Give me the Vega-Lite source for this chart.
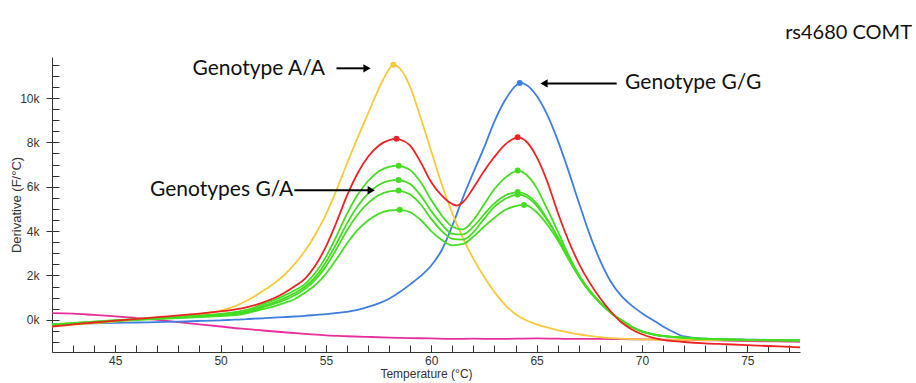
{
  "$schema": "https://vega.github.io/schema/vega-lite/v6.json",
  "width": 748,
  "height": 295,
  "autosize": "none",
  "padding": {"left": 52, "top": 57, "right": 116, "bottom": 31},
  "background": "white",
  "config": {
    "view": {"stroke": null},
    "font": "Liberation Sans",
    "axis": {"labelFont": "Liberation Sans", "titleFont": "Liberation Sans", "labelColor": "#333", "titleColor": "#333", "domainColor": "#333", "tickColor": "#333", "titleFontWeight": "normal", "grid": false, "labelOverlap": false}
  },
  "title": {"text": "rs4680 COMT", "anchor": "end", "frame": "group", "dx": 112, "offset": 14, "font": "Lato", "fontSize": 20, "fontWeight": "normal", "color": "#111"},
  "datasets": {
    "curves": [
      {"T": 42, "Y": -0.3, "R": -0.3, "B": -0.2, "G1": -0.22, "G2": -0.24, "G3": -0.2, "G4": -0.26, "P": 0.3},
      {"T": 43, "Y": -0.22, "R": -0.2, "B": -0.18, "G1": -0.15, "G2": -0.17, "G3": -0.14, "G4": -0.19, "P": 0.28},
      {"T": 44, "Y": -0.15, "R": -0.12, "B": -0.16, "G1": -0.08, "G2": -0.1, "G3": -0.08, "G4": -0.12, "P": 0.22},
      {"T": 45, "Y": -0.08, "R": -0.04, "B": -0.14, "G1": -0.02, "G2": -0.04, "G3": -0.03, "G4": -0.06, "P": 0.16},
      {"T": 46, "Y": 0.0, "R": 0.04, "B": -0.12, "G1": 0.04, "G2": 0.02, "G3": 0.02, "G4": 0.0, "P": 0.08},
      {"T": 47, "Y": 0.08, "R": 0.12, "B": -0.1, "G1": 0.09, "G2": 0.07, "G3": 0.06, "G4": 0.04, "P": 0.0},
      {"T": 48, "Y": 0.15, "R": 0.2, "B": -0.08, "G1": 0.14, "G2": 0.12, "G3": 0.1, "G4": 0.08, "P": -0.1},
      {"T": 49, "Y": 0.25, "R": 0.28, "B": -0.05, "G1": 0.2, "G2": 0.17, "G3": 0.15, "G4": 0.12, "P": -0.2},
      {"T": 50, "Y": 0.42, "R": 0.38, "B": -0.02, "G1": 0.27, "G2": 0.23, "G3": 0.2, "G4": 0.17, "P": -0.3},
      {"T": 50.5, "Y": 0.55, "R": 0.44, "B": 0.0, "G1": 0.32, "G2": 0.27, "G3": 0.24, "G4": 0.2},
      {"T": 51, "Y": 0.75, "R": 0.52, "B": 0.02, "G1": 0.4, "G2": 0.34, "G3": 0.3, "G4": 0.25, "P": -0.4},
      {"T": 51.5, "Y": 1.0, "R": 0.63, "B": 0.05, "G1": 0.52, "G2": 0.45, "G3": 0.4, "G4": 0.36},
      {"T": 52, "Y": 1.3, "R": 0.78, "B": 0.07, "G1": 0.71, "G2": 0.62, "G3": 0.56, "G4": 0.48, "P": -0.48},
      {"T": 52.5, "Y": 1.62, "R": 0.96, "B": 0.1, "G1": 0.88, "G2": 0.78, "G3": 0.71, "G4": 0.6},
      {"T": 53, "Y": 2.0, "R": 1.2, "B": 0.12, "G1": 1.08, "G2": 0.97, "G3": 0.88, "G4": 0.75, "P": -0.56},
      {"T": 53.5, "Y": 2.5, "R": 1.5, "B": 0.15, "G1": 1.32, "G2": 1.2, "G3": 1.1, "G4": 0.93},
      {"T": 54, "Y": 3.1, "R": 1.85, "B": 0.18, "G1": 1.61, "G2": 1.49, "G3": 1.39, "G4": 1.22, "P": -0.63},
      {"T": 54.5, "Y": 3.85, "R": 2.45, "B": 0.22, "G1": 2.12, "G2": 1.94, "G3": 1.81, "G4": 1.57},
      {"T": 55, "Y": 4.75, "R": 3.3, "B": 0.26, "G1": 2.84, "G2": 2.6, "G3": 2.41, "G4": 2.08, "P": -0.7},
      {"T": 55.5, "Y": 5.85, "R": 4.4, "B": 0.31, "G1": 3.77, "G2": 3.44, "G3": 3.19, "G4": 2.73},
      {"T": 56, "Y": 7.05, "R": 5.6, "B": 0.36, "G1": 4.78, "G2": 4.35, "G3": 4.03, "G4": 3.44, "P": -0.74},
      {"T": 56.5, "Y": 8.2, "R": 6.6, "B": 0.45, "G1": 5.63, "G2": 5.12, "G3": 4.74, "G4": 4.04},
      {"T": 57, "Y": 9.3, "R": 7.35, "B": 0.58, "G1": 6.26, "G2": 5.69, "G3": 5.26, "G4": 4.48, "P": -0.77},
      {"T": 57.5, "Y": 10.4, "R": 7.85, "B": 0.74, "G1": 6.69, "G2": 6.08, "G3": 5.62, "G4": 4.78},
      {"T": 58, "Y": 11.3, "R": 8.1, "B": 0.95, "G1": 6.9, "G2": 6.27, "G3": 5.79, "G4": 4.93, "P": -0.8},
      {"T": 58.2, "Y": 11.5},
      {"T": 58.35, "R": 8.16},
      {"T": 58.45, "G1": 6.95, "G2": 6.31, "G3": 5.83},
      {"T": 58.5, "Y": 11.35, "R": 8.13, "B": 1.25, "G1": 6.94, "G2": 6.3, "G3": 5.82, "G4": 4.96},
      {"T": 59, "Y": 10.5, "R": 7.85, "B": 1.6, "G1": 6.75, "G2": 6.12, "G3": 5.65, "G4": 4.85, "P": -0.82},
      {"T": 59.5, "Y": 9.1, "R": 7.1, "B": 1.98, "G1": 6.2, "G2": 5.6, "G3": 5.2, "G4": 4.5},
      {"T": 60, "Y": 7.6, "R": 6.2, "B": 2.45, "G1": 5.4, "G2": 4.9, "G3": 4.55, "G4": 4.0, "P": -0.84},
      {"T": 60.5, "Y": 6.1, "R": 5.6, "B": 3.15, "G1": 4.7, "G2": 4.3, "G3": 4.0, "G4": 3.6},
      {"T": 61, "Y": 4.8, "R": 5.22, "B": 4.25, "G1": 4.2, "G2": 3.88, "G3": 3.65, "G4": 3.36, "P": -0.86},
      {"T": 61.2, "R": 5.15},
      {"T": 61.5, "Y": 3.7, "R": 5.3, "B": 5.5, "G1": 4.08, "G2": 3.85, "G3": 3.62, "G4": 3.42},
      {"T": 62, "Y": 2.75, "R": 5.95, "B": 6.65, "G1": 4.5, "G2": 4.2, "G3": 3.95, "G4": 3.75, "P": -0.85},
      {"T": 62.5, "Y": 1.95, "R": 6.7, "B": 7.75, "G1": 5.2, "G2": 4.75, "G3": 4.55, "G4": 4.2},
      {"T": 63, "Y": 1.25, "R": 7.35, "B": 8.95, "G1": 5.9, "G2": 5.25, "G3": 5.1, "G4": 4.6, "P": -0.86},
      {"T": 63.5, "Y": 0.68, "R": 7.9, "B": 9.9, "G1": 6.4, "G2": 5.6, "G3": 5.45, "G4": 4.95},
      {"T": 64, "Y": 0.25, "R": 8.2, "B": 10.55, "G1": 6.7, "G2": 5.75, "G3": 5.63, "G4": 5.13, "P": -0.85},
      {"T": 64.1, "R": 8.23, "G1": 6.73, "G2": 5.76, "G3": 5.65},
      {"T": 64.2, "B": 10.68},
      {"T": 64.4, "G4": 5.18},
      {"T": 64.5, "Y": -0.02, "R": 8.05, "B": 10.6, "G1": 6.55, "G2": 5.65, "G3": 5.55, "G4": 5.17},
      {"T": 65, "Y": -0.2, "R": 7.35, "B": 10.1, "G1": 5.95, "G2": 5.25, "G3": 5.15, "G4": 4.85, "P": -0.84},
      {"T": 65.5, "Y": -0.34, "R": 6.25, "B": 9.25, "G1": 5.0, "G2": 4.55, "G3": 4.5, "G4": 4.3},
      {"T": 66, "Y": -0.46, "R": 4.85, "B": 8.1, "G1": 4.0, "G2": 3.75, "G3": 3.72, "G4": 3.6, "P": -0.85},
      {"T": 66.5, "Y": -0.56, "R": 3.6, "B": 6.75, "G1": 2.95, "G2": 2.85, "G3": 2.82, "G4": 2.75},
      {"T": 67, "Y": -0.65, "R": 2.55, "B": 5.3, "G1": 2.05, "G2": 2.0, "G3": 1.98, "G4": 1.95, "P": -0.86},
      {"T": 67.5, "Y": -0.72, "R": 1.7, "B": 3.9, "G1": 1.35, "G2": 1.32, "G3": 1.3, "G4": 1.28},
      {"T": 68, "Y": -0.78, "R": 1.0, "B": 2.7, "G1": 0.8, "G2": 0.8, "G3": 0.78, "G4": 0.78, "P": -0.86},
      {"T": 68.5, "Y": -0.82, "R": 0.4, "B": 1.75, "G1": 0.35, "G2": 0.35, "G3": 0.33, "G4": 0.33},
      {"T": 69, "Y": -0.85, "R": -0.1, "B": 1.1, "G1": 0.0, "G2": 0.0, "G3": -0.02, "G4": -0.02, "P": -0.87},
      {"T": 69.5, "Y": -0.87, "R": -0.42, "B": 0.65, "G1": -0.3, "G2": -0.3, "G3": -0.32, "G4": -0.32},
      {"T": 70, "Y": -0.88, "R": -0.65, "B": 0.3, "G1": -0.52, "G2": -0.52, "G3": -0.53, "G4": -0.53, "P": -0.88},
      {"T": 70.5, "Y": -0.89, "R": -0.8, "B": 0.0, "G1": -0.64, "G2": -0.64, "G3": -0.65, "G4": -0.65},
      {"T": 71, "Y": -0.9, "R": -0.9, "B": -0.3, "G1": -0.72, "G2": -0.72, "G3": -0.73, "G4": -0.73, "P": -0.89},
      {"T": 71.5, "Y": -0.9, "R": -0.96, "B": -0.55, "G1": -0.77, "G2": -0.77, "G3": -0.78, "G4": -0.78},
      {"T": 72, "Y": -0.9, "R": -1.0, "B": -0.75, "G1": -0.8, "G2": -0.8, "G3": -0.81, "G4": -0.81, "P": -0.9},
      {"T": 73, "Y": -0.91, "R": -1.06, "B": -0.85, "G1": -0.85, "G2": -0.85, "G3": -0.86, "G4": -0.86, "P": -0.92},
      {"T": 74, "Y": -0.91, "R": -1.1, "B": -0.88, "G1": -0.88, "G2": -0.88, "G3": -0.89, "G4": -0.89, "P": -0.94},
      {"T": 75, "Y": -0.92, "R": -1.14, "B": -0.89, "G1": -0.9, "G2": -0.9, "G3": -0.91, "G4": -0.91, "P": -0.96},
      {"T": 76, "Y": -0.92, "R": -1.18, "B": -0.9, "G1": -0.91, "G2": -0.91, "G3": -0.92, "G4": -0.92, "P": -0.97},
      {"T": 77, "Y": -0.93, "R": -1.22, "B": -0.9, "G1": -0.92, "G2": -0.92, "G3": -0.93, "G4": -0.93, "P": -0.98},
      {"T": 77.5, "Y": -0.93, "R": -1.24, "B": -0.9, "G1": -0.93, "G2": -0.93, "G3": -0.94, "G4": -0.94, "P": -0.99}
    ],
    "peaks": [
      {"T": 58.2, "v": 11.5, "s": "Y"},
      {"T": 58.35, "v": 8.16, "s": "R"},
      {"T": 64.1, "v": 8.23, "s": "R"},
      {"T": 64.2, "v": 10.68, "s": "B"},
      {"T": 58.45, "v": 6.95, "s": "G1"},
      {"T": 64.1, "v": 6.73, "s": "G1"},
      {"T": 58.45, "v": 6.31, "s": "G2"},
      {"T": 64.1, "v": 5.76, "s": "G2"},
      {"T": 58.45, "v": 5.83, "s": "G3"},
      {"T": 64.1, "v": 5.65, "s": "G3"},
      {"T": 58.5, "v": 4.96, "s": "G4"},
      {"T": 64.4, "v": 5.18, "s": "G4"}
    ],
    "notes": [
      {"T": 54.95, "v": 11.3, "text": "Genotype A/A", "side": "right"},
      {"T": 69.2, "v": 10.7, "text": "Genotype G/G", "side": "left"},
      {"T": 53.45, "v": 5.84, "text": "Genotypes G/A", "side": "right"}
    ],
    "arrows": [
      {"T": 55.5, "T2": 56.8, "v": 11.34},
      {"T": 68.8, "T2": 65.5, "v": 10.66},
      {"T": 53.5, "T2": 57.0, "v": 5.84}
    ],
    "heads": [
      {"T": 56.95, "v": 11.34, "dir": "right"},
      {"T": 65.35, "v": 10.66, "dir": "left"},
      {"T": 57.15, "v": 5.84, "dir": "right"}
    ]
  },
  "layer": [
    {
      "data": {"name": "curves"},
      "transform": [
        {"fold": ["P", "B", "Y", "G1", "G2", "G3", "G4", "R"], "as": ["s", "v"]},
        {"filter": "isValid(datum.v)"}
      ],
      "mark": {"type": "line", "interpolate": "monotone", "strokeWidth": 1.8},
      "encoding": {
        "x": {"field": "T", "type": "quantitative",
          "scale": {"domain": [42, 77.5], "nice": false, "zero": false},
          "axis": {"orient": "bottom", "values": [43,44,45,46,47,48,49,50,51,52,53,54,55,56,57,58,59,60,61,62,63,64,65,66,67,68,69,70,71,72,73,74,75,76,77],
            "labels": false, "tickSize": -7, "title": null}},
        "y": {"field": "v", "type": "quantitative",
          "scale": {"domain": [-1.45, 11.85], "nice": false, "zero": false},
          "axis": {"values": [-1,-0.5,0,0.5,1,1.5,2,2.5,3,3.5,4,4.5,5,5.5,6,6.5,7,7.5,8,8.5,9,9.5,10,10.5,11,11.5],
            "labelExpr": "datum.value % 2 === 0 ? datum.value + 'k' : ''", "tickSize": -7, "labelPadding": 20,
            "labelFontSize": 12, "title": "Derivative (F/°C)", "titleFontSize": 13, "titlePadding": -4}},
        "color": {"field": "s", "type": "nominal", "legend": null,
          "scale": {"domain": ["P", "B", "Y", "G1", "G2", "G3", "G4", "R"],
            "range": ["#e62e9c", "#3d7ee0", "#f8c93a", "#44dd22", "#44dd22", "#44dd22", "#44dd22", "#ee2222"]}}
      }
    },
    {
      "data": {"name": "peaks"},
      "mark": {"type": "point", "filled": true, "size": 36, "opacity": 1},
      "encoding": {
        "x": {"field": "T", "type": "quantitative", "axis": null},
        "y": {"field": "v", "type": "quantitative", "axis": null},
        "color": {"field": "s", "type": "nominal", "legend": null}
      }
    },
    {
      "data": {"name": "arrows"},
      "mark": {"type": "rule", "color": "#000", "strokeWidth": 2},
      "encoding": {
        "x": {"field": "T", "type": "quantitative", "axis": null},
        "x2": {"field": "T2"},
        "y": {"field": "v", "type": "quantitative", "axis": null}
      }
    },
    {
      "data": {"name": "heads"},
      "mark": {"type": "point", "filled": true, "color": "#000", "opacity": 1, "size": 70},
      "encoding": {
        "x": {"field": "T", "type": "quantitative", "axis": null},
        "y": {"field": "v", "type": "quantitative", "axis": null},
        "shape": {"field": "dir", "type": "nominal", "legend": null,
          "scale": {"domain": ["right", "left"], "range": ["triangle-right", "triangle-left"]}}
      }
    },
    {
      "data": {"name": "notes"},
      "transform": [{"filter": "datum.side === 'right'"}],
      "mark": {"type": "text", "font": "Lato", "fontSize": 21, "color": "#111", "baseline": "middle", "align": "right"},
      "encoding": {
        "x": {"field": "T", "type": "quantitative", "axis": null},
        "y": {"field": "v", "type": "quantitative", "axis": null},
        "text": {"field": "text"}
      }
    },
    {
      "data": {"name": "notes"},
      "transform": [{"filter": "datum.side === 'left'"}],
      "mark": {"type": "text", "font": "Lato", "fontSize": 21, "color": "#111", "baseline": "middle", "align": "left"},
      "encoding": {
        "x": {"field": "T", "type": "quantitative", "axis": null},
        "y": {"field": "v", "type": "quantitative", "axis": null},
        "text": {"field": "text"}
      }
    },
    {
      "data": {"name": "peaks"},
      "mark": {"type": "point", "opacity": 0},
      "encoding": {
        "x": {"field": "T", "type": "quantitative",
          "axis": {"orient": "bottom", "values": [45, 50, 55, 60, 65, 70, 75], "tickSize": -7, "labelPadding": 10, "domain": false,
            "labelFontSize": 12, "title": "Temperature (°C)", "titleFontSize": 12, "titlePadding": 2}},
        "y": {"field": "v", "type": "quantitative",
          "axis": {"orient": "left", "values": [0, 2, 4, 6, 8, 10], "tickSize": 6, "labels": false, "domain": false, "title": null}}
      }
    }
  ],
  "resolve": {"axis": {"y": "independent", "x": "independent"}}
}
